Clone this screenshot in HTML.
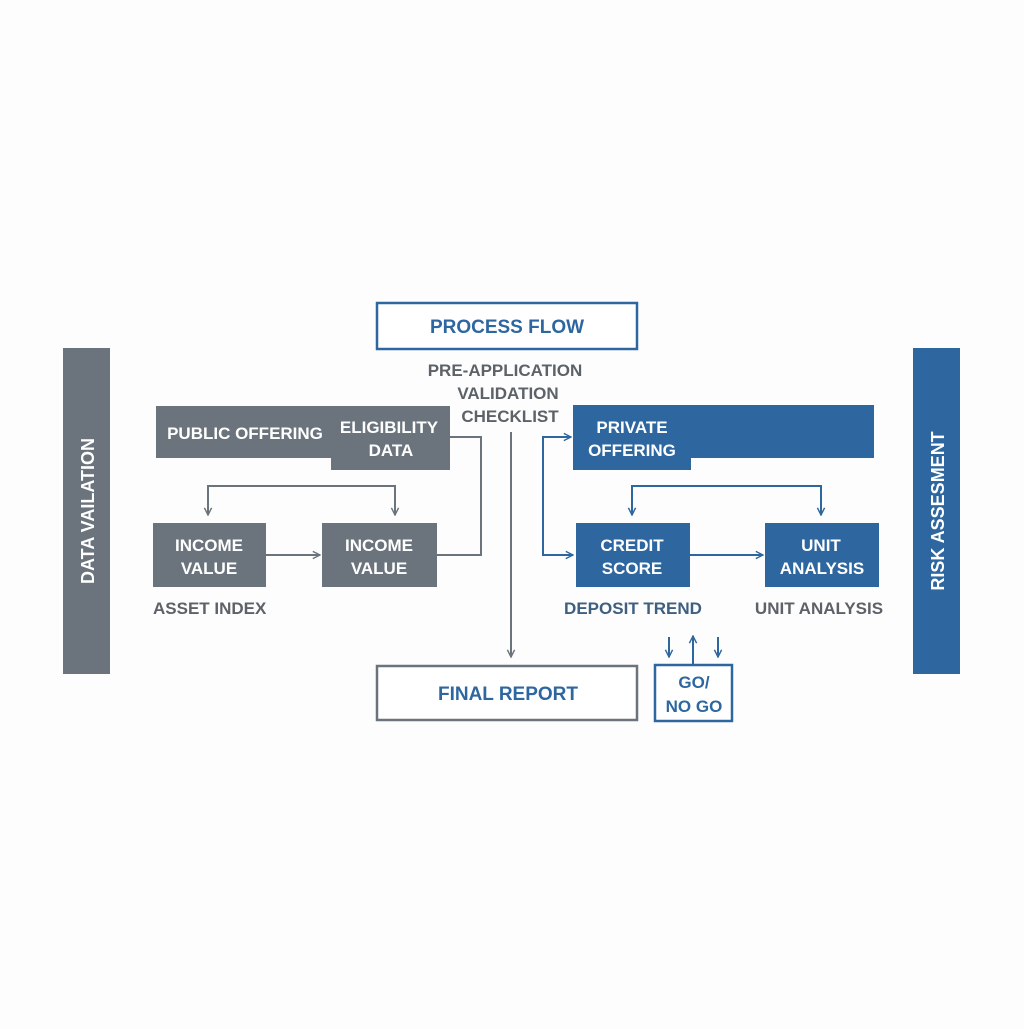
<!DOCTYPE html>
<html><head><meta charset="utf-8"><style>html,body{margin:0;padding:0;background:#fdfdfd}</style></head>
<body>
<svg width="1024" height="1024" viewBox="0 0 1024 1024" xmlns="http://www.w3.org/2000/svg" font-family="Liberation Sans, sans-serif" font-weight="bold">
<defs>
<marker id="ag" viewBox="0 0 10 10" refX="9" refY="5" markerWidth="9" markerHeight="9" orient="auto-start-reverse" markerUnits="userSpaceOnUse"><path d="M1,1 L9,5 L1,9" fill="none" stroke="#6b747d" stroke-width="1.6"/></marker>
<marker id="ab" viewBox="0 0 10 10" refX="9" refY="5" markerWidth="9" markerHeight="9" orient="auto-start-reverse" markerUnits="userSpaceOnUse"><path d="M1,1 L9,5 L1,9" fill="none" stroke="#2e67a0" stroke-width="1.6"/></marker>
</defs>
<rect width="1024" height="1024" fill="#fdfdfd"/>
<!-- side bars -->
<rect x="63" y="348" width="47" height="326" fill="#6b747d"/>
<text transform="translate(94,511) rotate(-90)" text-anchor="middle" fill="#fff" font-size="18">DATA VAILATION</text>
<rect x="913" y="348" width="47" height="326" fill="#2e67a0"/>
<text transform="translate(944,511) rotate(-90)" text-anchor="middle" fill="#fff" font-size="18">RISK ASSESMENT</text>
<!-- process flow -->
<rect x="377" y="303" width="260" height="46" fill="#fff" stroke="#2e67a0" stroke-width="2.5"/>
<text x="507" y="333" text-anchor="middle" fill="#2e67a0" font-size="19">PROCESS FLOW</text>
<g fill="#5c6268" font-size="17" text-anchor="middle">
<text x="505" y="376">PRE-APPLICATION</text>
<text x="508" y="399">VALIDATION</text>
<text x="510" y="422">CHECKLIST</text>
</g>
<!-- left gray -->
<path d="M156,406 H450 V470 H331 V458 H156 Z" fill="#6b747d"/>
<text x="245" y="439" text-anchor="middle" fill="#fff" font-size="17">PUBLIC OFFERING</text>
<text x="389" y="433" text-anchor="middle" fill="#fff" font-size="17">ELIGIBILITY</text>
<text x="391" y="456" text-anchor="middle" fill="#fff" font-size="17">DATA</text>
<rect x="153" y="523" width="113" height="64" fill="#6b747d"/>
<text x="209" y="551" text-anchor="middle" fill="#fff" font-size="17">INCOME</text>
<text x="209" y="574" text-anchor="middle" fill="#fff" font-size="17">VALUE</text>
<rect x="322" y="523" width="115" height="64" fill="#6b747d"/>
<text x="379" y="551" text-anchor="middle" fill="#fff" font-size="17">INCOME</text>
<text x="379" y="574" text-anchor="middle" fill="#fff" font-size="17">VALUE</text>
<text x="153" y="614" fill="#5c6268" font-size="17">ASSET INDEX</text>
<g fill="none" stroke="#6b747d" stroke-width="2">
<path d="M450,437 H481 V555 H437"/>
<path d="M208,515 V486 H395 V515" marker-start="url(#ag)" marker-end="url(#ag)"/>
<path d="M266,555 H320" marker-end="url(#ag)"/>
<path d="M511,432 V657" marker-end="url(#ag)"/>
</g>
<!-- final report -->
<rect x="377" y="666" width="260" height="54" fill="#fff" stroke="#6b747d" stroke-width="2.5"/>
<text x="508" y="700" text-anchor="middle" fill="#2e67a0" font-size="19">FINAL REPORT</text>
<!-- right blue -->
<path d="M573,405 H874 V458 H691 V470 H573 Z" fill="#2e67a0"/>
<text x="632" y="433" text-anchor="middle" fill="#fff" font-size="17">PRIVATE</text>
<text x="632" y="456" text-anchor="middle" fill="#fff" font-size="17">OFFERING</text>
<rect x="576" y="523" width="114" height="64" fill="#2e67a0"/>
<text x="632" y="551" text-anchor="middle" fill="#fff" font-size="17">CREDIT</text>
<text x="632" y="574" text-anchor="middle" fill="#fff" font-size="17">SCORE</text>
<rect x="765" y="523" width="114" height="64" fill="#2e67a0"/>
<text x="821" y="551" text-anchor="middle" fill="#fff" font-size="17">UNIT</text>
<text x="822" y="574" text-anchor="middle" fill="#fff" font-size="17">ANALYSIS</text>
<text x="633" y="614" text-anchor="middle" fill="#3f5f80" font-size="17">DEPOSIT TREND</text>
<text x="819" y="614" text-anchor="middle" fill="#5c6268" font-size="17">UNIT ANALYSIS</text>
<g fill="none" stroke="#2e67a0" stroke-width="2">
<path d="M571,437 H543 V555 H573" marker-start="url(#ab)" marker-end="url(#ab)"/>
<path d="M632,515 V486 H821 V515" marker-start="url(#ab)" marker-end="url(#ab)"/>
<path d="M690,555 H763" marker-end="url(#ab)"/>
<path d="M669,637 V657" marker-end="url(#ab)"/>
<path d="M693,664 V636" marker-end="url(#ab)"/>
<path d="M718,637 V657" marker-end="url(#ab)"/>
</g>
<rect x="655" y="665" width="77" height="56" fill="#fff" stroke="#2e67a0" stroke-width="2.5"/>
<text x="694" y="688" text-anchor="middle" fill="#2e67a0" font-size="17">GO/</text>
<text x="694" y="712" text-anchor="middle" fill="#2e67a0" font-size="17">NO GO</text>
</svg>
</body></html>
